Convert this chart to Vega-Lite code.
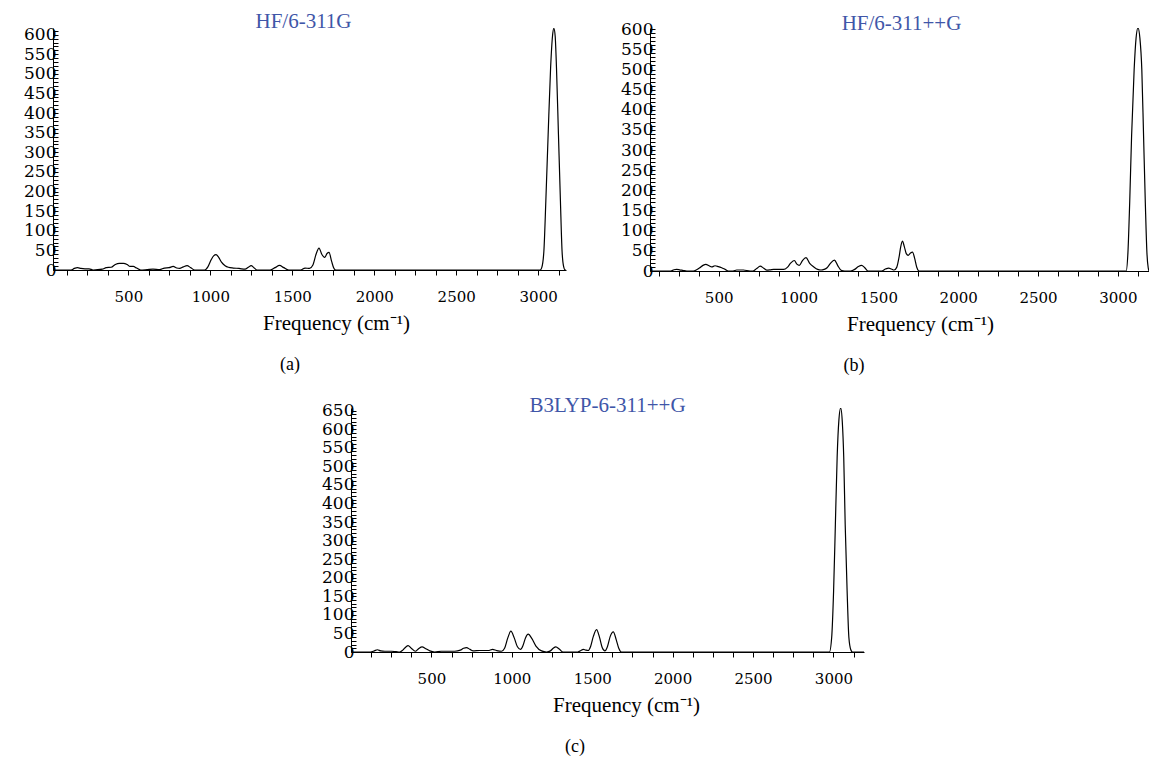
{
  "$schema": "https://vega.github.io/schema/vega-lite/v6.json",
  "padding": {"left": 23, "top": 10, "right": 0, "bottom": 0},
  "background": "white",
  "config": {
    "view": {"stroke": null},
    "axis": {"grid": false, "domainColor": "black", "tickColor": "black", "labelColor": "black", "titleColor": "black", "labelOverlap": false, "labelFlush": false},
    "axisX": {"tickSize": 5, "labelPadding": 14, "labelFont": "DejaVu Serif", "labelFontSize": 15, "titleFont": "Liberation Serif", "titleFontSize": 21, "titleFontWeight": "normal", "titlePadding": 8, "titleAlign": "center", "format": "d"},
    "axisY": {"tickSize": -5, "labelPadding": 2, "labelFont": "DejaVu Serif", "labelFontSize": 17, "format": "d"},
    "title": {"font": "Liberation Serif", "fontWeight": "normal", "frame": "group", "anchor": "middle"}
  },
  "spacing": 19,
  "vconcat": [
    {
      "spacing": 54,
      "hconcat": [
        {
          "title": {"text": "(a)", "orient": "bottom", "fontSize": 18, "color": "black", "offset": 23, "dx": 237},
          "vconcat": [
            {
              "width": 513,
              "height": 242,
              "title": {"text": "HF/6-311G", "color": "#3f56a8", "fontSize": 21, "offset": -10, "dx": -6},
              "data": {"values": [
                {"f": 40, "i": 0}, {"f": 150, "i": 0}, {"f": 170, "i": 4}, {"f": 190, "i": 6}, {"f": 210, "i": 4}, {"f": 235, "i": 3}, {"f": 260, "i": 3}, {"f": 285, "i": 0},
                {"f": 340, "i": 2}, {"f": 365, "i": 6}, {"f": 395, "i": 7}, {"f": 420, "i": 14}, {"f": 445, "i": 17}, {"f": 470, "i": 17}, {"f": 492, "i": 14}, {"f": 510, "i": 9},
                {"f": 530, "i": 9}, {"f": 550, "i": 5}, {"f": 575, "i": 0}, {"f": 615, "i": 1}, {"f": 650, "i": 2}, {"f": 690, "i": 1}, {"f": 720, "i": 5}, {"f": 748, "i": 6},
                {"f": 773, "i": 9}, {"f": 795, "i": 5}, {"f": 813, "i": 4}, {"f": 835, "i": 8}, {"f": 858, "i": 11}, {"f": 880, "i": 6}, {"f": 905, "i": 0}, {"f": 965, "i": 0},
                {"f": 985, "i": 8}, {"f": 1005, "i": 26}, {"f": 1020, "i": 36}, {"f": 1035, "i": 39}, {"f": 1050, "i": 33}, {"f": 1068, "i": 20}, {"f": 1090, "i": 11}, {"f": 1110, "i": 7},
                {"f": 1140, "i": 5}, {"f": 1175, "i": 4}, {"f": 1212, "i": 2}, {"f": 1232, "i": 7}, {"f": 1249, "i": 11}, {"f": 1266, "i": 6}, {"f": 1285, "i": 0}, {"f": 1365, "i": 0},
                {"f": 1395, "i": 6}, {"f": 1422, "i": 12}, {"f": 1448, "i": 6}, {"f": 1478, "i": 0}, {"f": 1550, "i": 0}, {"f": 1578, "i": 5}, {"f": 1605, "i": 4}, {"f": 1625, "i": 12},
                {"f": 1645, "i": 40}, {"f": 1663, "i": 56}, {"f": 1680, "i": 40}, {"f": 1697, "i": 32}, {"f": 1712, "i": 42}, {"f": 1724, "i": 45}, {"f": 1740, "i": 22}, {"f": 1753, "i": 5},
                {"f": 1765, "i": 0}, {"f": 2990, "i": 0}, {"f": 3012, "i": 0}, {"f": 3022, "i": 6}, {"f": 3035, "i": 48}, {"f": 3047, "i": 176}, {"f": 3061, "i": 345}, {"f": 3076, "i": 515},
                {"f": 3088, "i": 598}, {"f": 3096, "i": 616}, {"f": 3104, "i": 596}, {"f": 3112, "i": 515}, {"f": 3124, "i": 345}, {"f": 3136, "i": 176}, {"f": 3146, "i": 48}, {"f": 3156, "i": 8},
                {"f": 3165, "i": 0}, {"f": 3170, "i": 0}
              ]},
              "mark": {"type": "line", "color": "black", "strokeWidth": 1.2, "interpolate": "monotone", "clip": true},
              "encoding": {
                "x": {"field": "f", "type": "quantitative", "scale": {"domain": [40, 3170], "nice": false, "zero": false},
                      "axis": {"title": "Frequency (cm⁻¹)", "titleX": 283,
                               "values": [125,250,375,500,625,750,875,1000,1125,1250,1375,1500,1625,1750,1875,2000,2125,2250,2375,2500,2625,2750,2875,3000,3125],
                               "labelExpr": "datum.value % 500 === 0 ? datum.label : ''"}},
                "y": {"field": "i", "type": "quantitative", "scale": {"domain": [0, 617], "nice": false},
                      "axis": {"title": null,
                               "values": [0,10,20,30,40,50,60,70,80,90,100,110,120,130,140,150,160,170,180,190,200,210,220,230,240,250,260,270,280,290,300,310,320,330,340,350,360,370,380,390,400,410,420,430,440,450,460,470,480,490,500,510,520,530,540,550,560,570,580,590,600,610],
                               "labelExpr": "datum.value % 50 === 0 ? datum.label : ''"}}
              }
            }
          ]
        },
        {
          "title": {"text": "(b)", "orient": "bottom", "fontSize": 18, "color": "black", "offset": 23, "dx": 204},
          "vconcat": [
            {
              "width": 499,
              "height": 243,
              "title": {"text": "HF/6-311++G", "color": "#3f56a8", "fontSize": 21, "offset": -14, "dx": 2},
              "data": {"values": [
                {"f": 70, "i": 0}, {"f": 200, "i": 0}, {"f": 220, "i": 3}, {"f": 236, "i": 4}, {"f": 255, "i": 3}, {"f": 280, "i": 1}, {"f": 300, "i": 0}, {"f": 341, "i": 0},
                {"f": 362, "i": 3}, {"f": 382, "i": 8}, {"f": 402, "i": 14}, {"f": 420, "i": 16.5}, {"f": 440, "i": 13}, {"f": 456, "i": 10}, {"f": 477, "i": 13}, {"f": 498, "i": 11},
                {"f": 519, "i": 8}, {"f": 540, "i": 4}, {"f": 561, "i": 0}, {"f": 590, "i": 0}, {"f": 613, "i": 2.5}, {"f": 655, "i": 2.5}, {"f": 697, "i": 0}, {"f": 715, "i": 0},
                {"f": 738, "i": 6}, {"f": 760, "i": 12}, {"f": 782, "i": 7}, {"f": 802, "i": 2}, {"f": 825, "i": 3}, {"f": 844, "i": 4}, {"f": 875, "i": 4}, {"f": 907, "i": 4},
                {"f": 930, "i": 9}, {"f": 952, "i": 20}, {"f": 974, "i": 26}, {"f": 990, "i": 17}, {"f": 1005, "i": 14}, {"f": 1025, "i": 26}, {"f": 1047, "i": 33}, {"f": 1070, "i": 19},
                {"f": 1096, "i": 10}, {"f": 1120, "i": 4}, {"f": 1141, "i": 2.5}, {"f": 1160, "i": 4}, {"f": 1179, "i": 8}, {"f": 1200, "i": 19}, {"f": 1225, "i": 27}, {"f": 1245, "i": 14},
                {"f": 1267, "i": 2}, {"f": 1290, "i": 0}, {"f": 1326, "i": 0}, {"f": 1352, "i": 4}, {"f": 1375, "i": 11}, {"f": 1395, "i": 14}, {"f": 1415, "i": 8}, {"f": 1435, "i": 0},
                {"f": 1520, "i": 0}, {"f": 1545, "i": 5}, {"f": 1565, "i": 7}, {"f": 1582, "i": 5}, {"f": 1599, "i": 2.5}, {"f": 1615, "i": 9}, {"f": 1630, "i": 35}, {"f": 1640, "i": 60},
                {"f": 1651, "i": 74}, {"f": 1663, "i": 60}, {"f": 1675, "i": 43}, {"f": 1687, "i": 39}, {"f": 1700, "i": 44}, {"f": 1714, "i": 47}, {"f": 1727, "i": 32}, {"f": 1740, "i": 10},
                {"f": 1756, "i": 0}, {"f": 3040, "i": 0}, {"f": 3052, "i": 0}, {"f": 3063, "i": 45}, {"f": 3074, "i": 169}, {"f": 3086, "i": 335}, {"f": 3102, "i": 500}, {"f": 3114, "i": 578},
                {"f": 3126, "i": 603}, {"f": 3138, "i": 578}, {"f": 3150, "i": 500}, {"f": 3161, "i": 335}, {"f": 3172, "i": 169}, {"f": 3182, "i": 45}, {"f": 3190, "i": 8}, {"f": 3195, "i": 0}
              ]},
              "mark": {"type": "line", "color": "black", "strokeWidth": 1.2, "interpolate": "monotone", "clip": true},
              "encoding": {
                "x": {"field": "f", "type": "quantitative", "scale": {"domain": [70, 3195], "nice": false, "zero": false},
                      "axis": {"title": "Frequency (cm⁻¹)", "titleX": 270,
                               "values": [125,250,375,500,625,750,875,1000,1125,1250,1375,1500,1625,1750,1875,2000,2125,2250,2375,2500,2625,2750,2875,3000,3125],
                               "labelExpr": "datum.value % 500 === 0 ? datum.label : ''"}},
                "y": {"field": "i", "type": "quantitative", "scale": {"domain": [0, 603], "nice": false},
                      "axis": {"title": null,
                               "values": [0,10,20,30,40,50,60,70,80,90,100,110,120,130,140,150,160,170,180,190,200,210,220,230,240,250,260,270,280,290,300,310,320,330,340,350,360,370,380,390,400,410,420,430,440,450,460,470,480,490,500,510,520,530,540,550,560,570,580,590,600],
                               "labelExpr": "datum.value % 50 === 0 ? datum.label : ''"}}
              }
            }
          ]
        }
      ]
    },
    {
      "spacing": 10,
      "hconcat": [
        {
          "width": 258,
          "height": 10,
          "data": {"values": [{"s": ""}]},
          "mark": {"type": "text"},
          "encoding": {"text": {"field": "s", "type": "nominal"}}
        },
        {
          "title": {"text": "(c)", "orient": "bottom", "fontSize": 18, "color": "black", "offset": 23, "dx": 224},
          "vconcat": [
            {
              "width": 513,
              "height": 244,
              "title": {"text": "B3LYP-6-311++G", "color": "#3f56a8", "fontSize": 21, "offset": -14, "dx": 0},
              "data": {"values": [
                {"f": 0, "i": 0}, {"f": 120, "i": 0}, {"f": 145, "i": 3}, {"f": 164, "i": 6}, {"f": 185, "i": 3}, {"f": 210, "i": 2}, {"f": 251, "i": 2}, {"f": 280, "i": 1},
                {"f": 303, "i": 0}, {"f": 322, "i": 5}, {"f": 340, "i": 13}, {"f": 355, "i": 17}, {"f": 375, "i": 10}, {"f": 400, "i": 2}, {"f": 420, "i": 9}, {"f": 442, "i": 14},
                {"f": 465, "i": 9}, {"f": 490, "i": 3}, {"f": 521, "i": 0}, {"f": 561, "i": 2}, {"f": 645, "i": 2}, {"f": 680, "i": 5}, {"f": 700, "i": 10}, {"f": 718, "i": 12},
                {"f": 740, "i": 7}, {"f": 759, "i": 3}, {"f": 801, "i": 4}, {"f": 853, "i": 4}, {"f": 880, "i": 7}, {"f": 905, "i": 4}, {"f": 936, "i": 2}, {"f": 955, "i": 10},
                {"f": 975, "i": 38}, {"f": 994, "i": 56}, {"f": 1015, "i": 38}, {"f": 1035, "i": 14}, {"f": 1054, "i": 7}, {"f": 1070, "i": 18}, {"f": 1085, "i": 38}, {"f": 1102, "i": 48},
                {"f": 1125, "i": 36}, {"f": 1150, "i": 16}, {"f": 1185, "i": 3}, {"f": 1216, "i": 0}, {"f": 1240, "i": 3}, {"f": 1257, "i": 10}, {"f": 1274, "i": 14}, {"f": 1295, "i": 8},
                {"f": 1319, "i": 0}, {"f": 1410, "i": 0}, {"f": 1430, "i": 4}, {"f": 1444, "i": 7}, {"f": 1460, "i": 5}, {"f": 1475, "i": 4}, {"f": 1490, "i": 15}, {"f": 1507, "i": 42},
                {"f": 1527, "i": 60}, {"f": 1545, "i": 40}, {"f": 1562, "i": 12}, {"f": 1579, "i": 3}, {"f": 1595, "i": 15}, {"f": 1612, "i": 42}, {"f": 1631, "i": 54}, {"f": 1650, "i": 32},
                {"f": 1665, "i": 10}, {"f": 1682, "i": 0}, {"f": 2960, "i": 0}, {"f": 2975, "i": 0}, {"f": 2989, "i": 39}, {"f": 3001, "i": 165}, {"f": 3012, "i": 344}, {"f": 3023, "i": 524},
                {"f": 3034, "i": 625}, {"f": 3045, "i": 657}, {"f": 3055, "i": 620}, {"f": 3064, "i": 524}, {"f": 3073, "i": 344}, {"f": 3085, "i": 165}, {"f": 3096, "i": 39}, {"f": 3108, "i": 6},
                {"f": 3118, "i": 0}, {"f": 3190, "i": 0}
              ]},
              "mark": {"type": "line", "color": "black", "strokeWidth": 1.2, "interpolate": "monotone", "clip": true},
              "encoding": {
                "x": {"field": "f", "type": "quantitative", "scale": {"domain": [0, 3190], "nice": false, "zero": false},
                      "axis": {"title": "Frequency (cm⁻¹)", "titleX": 275,
                               "values": [125,250,375,500,625,750,875,1000,1125,1250,1375,1500,1625,1750,1875,2000,2125,2250,2375,2500,2625,2750,2875,3000,3125],
                               "labelExpr": "datum.value % 500 === 0 ? datum.label : ''"}},
                "y": {"field": "i", "type": "quantitative", "scale": {"domain": [0, 657], "nice": false},
                      "axis": {"title": null,
                               "values": [0,10,20,30,40,50,60,70,80,90,100,110,120,130,140,150,160,170,180,190,200,210,220,230,240,250,260,270,280,290,300,310,320,330,340,350,360,370,380,390,400,410,420,430,440,450,460,470,480,490,500,510,520,530,540,550,560,570,580,590,600,610,620,630,640,650],
                               "labelExpr": "datum.value % 50 === 0 ? datum.label : ''"}}
              }
            }
          ]
        }
      ]
    }
  ]
}
